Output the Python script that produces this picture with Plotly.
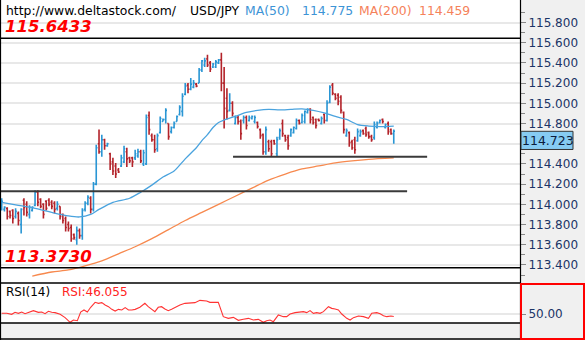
import plotly.graph_objects as go

# ---------------- data ----------------
symbol = "USD/JPY"
site = "http://www.deltastock.com/"
level_high = 115.6433
level_low = 113.3730
level_mid = 114.13
level_support = 114.47

bar_open = [113.97, 113.95, 113.96, 113.93, 113.94, 113.88, 113.91, 113.80, 114.04, 114.00,
            113.90, 113.94, 113.99, 114.12, 114.05, 114.00, 114.03, 114.04, 114.02, 114.01,
            113.96, 113.98, 113.90, 113.86, 113.80, 113.77, 113.70, 113.65, 113.74, 113.69,
            113.95, 114.01, 114.06, 113.95, 114.20, 114.60, 114.52, 114.64, 114.58, 114.50,
            114.42, 114.38, 114.34, 114.38, 114.42, 114.52, 114.46, 114.46, 114.46, 114.48,
            114.52, 114.40, 114.40, 114.88, 114.68, 114.64, 114.55, 114.71, 114.82, 114.84,
            114.80, 114.72, 114.76, 114.82, 114.89, 114.92, 115.09, 115.18, 115.14, 115.16,
            115.19, 115.20, 115.33, 115.38, 115.44, 115.40, 115.36, 115.36, 115.40, 115.43,
            115.20, 115.05, 114.93, 115.00, 114.80, 114.86, 114.82, 114.83, 114.86, 114.83,
            114.85, 114.82, 114.81, 114.74, 114.69, 114.52, 114.62, 114.62, 114.63, 114.50,
            114.66, 114.80, 114.68, 114.66, 114.68, 114.71, 114.75, 114.83, 114.81, 114.82,
            114.91, 114.94, 114.86, 114.84, 114.84, 114.80, 114.89, 114.83, 115.01, 115.18,
            115.09, 115.08, 115.06, 114.91, 114.68, 114.71, 114.62, 114.64, 114.63, 114.68,
            114.73, 114.75, 114.71, 114.67, 114.66, 114.76, 114.81, 114.84, 114.76, 114.80,
            114.74, 114.70]
bar_high = [114.06, 113.98, 113.97, 113.94, 113.95, 113.96, 113.93, 113.96, 114.06, 114.03,
            113.99, 113.98, 114.14, 114.14, 114.06, 114.01, 114.04, 114.06, 114.04, 114.03,
            114.03, 113.98, 113.91, 113.88, 113.83, 113.80, 113.71, 113.78, 113.76, 113.96,
            114.03, 114.09, 114.08, 114.22, 114.59, 114.74, 114.69, 114.65, 114.61, 114.51,
            114.46, 114.41, 114.36, 114.49, 114.58, 114.56, 114.47, 114.47, 114.54, 114.55,
            114.54, 114.54, 114.89, 114.92, 114.70, 114.69, 114.70, 114.87, 114.85, 114.95,
            114.80, 114.77, 114.82, 114.88, 114.98, 115.10, 115.20, 115.20, 115.25, 115.23,
            115.20, 115.35, 115.43, 115.45, 115.48, 115.42, 115.40, 115.43, 115.44, 115.50,
            115.36, 115.15, 115.10, 115.02, 114.88, 114.88, 114.84, 114.88, 114.88, 114.88,
            114.88, 114.88, 114.82, 114.75, 114.70, 114.77, 114.64, 114.64, 114.64, 114.67,
            114.75, 114.84, 114.69, 114.69, 114.75, 114.77, 114.85, 114.84, 114.90, 114.93,
            114.95, 114.95, 114.87, 114.85, 114.85, 114.87, 114.90, 115.03, 115.18, 115.20,
            115.10, 115.10, 115.08, 114.92, 114.75, 114.72, 114.64, 114.67, 114.75, 114.74,
            114.74, 114.77, 114.72, 114.69, 114.82, 114.82, 114.84, 114.85, 114.80, 114.82,
            114.75, 114.74]
bar_low = [113.94, 113.93, 113.85, 113.86, 113.81, 113.86, 113.79, 113.71, 113.89, 113.88,
           113.86, 113.93, 113.98, 113.98, 113.96, 113.86, 113.94, 113.98, 113.95, 113.91,
           113.94, 113.85, 113.81, 113.73, 113.73, 113.63, 113.65, 113.60, 113.66, 113.65,
           113.93, 113.99, 113.91, 113.93, 114.19, 114.50, 114.47, 114.54, 114.57, 114.34,
           114.29, 114.26, 114.31, 114.37, 114.41, 114.37, 114.41, 114.37, 114.44, 114.46,
           114.41, 114.38, 114.39, 114.69, 114.62, 114.51, 114.52, 114.70, 114.82, 114.80,
           114.64, 114.70, 114.75, 114.82, 114.88, 114.87, 115.08, 115.10, 115.13, 115.15,
           115.16, 115.20, 115.31, 115.36, 115.36, 115.31, 115.35, 115.35, 115.39, 115.12,
           114.75, 114.84, 114.92, 114.87, 114.79, 114.79, 114.64, 114.80, 114.74, 114.82,
           114.84, 114.80, 114.75, 114.65, 114.49, 114.49, 114.52, 114.47, 114.59, 114.47,
           114.64, 114.67, 114.62, 114.54, 114.67, 114.70, 114.74, 114.79, 114.80, 114.80,
           114.90, 114.80, 114.79, 114.75, 114.82, 114.79, 114.80, 114.82, 115.00, 115.08,
           115.03, 114.98, 114.90, 114.70, 114.67, 114.57, 114.54, 114.50, 114.62, 114.67,
           114.69, 114.67, 114.65, 114.62, 114.64, 114.75, 114.80, 114.80, 114.75, 114.69,
           114.69, 114.60]
bar_close = [114.03, 113.97, 113.88, 113.89, 113.86, 113.93, 113.84, 113.95, 113.97, 113.92,
             113.97, 113.97, 114.12, 114.02, 113.98, 113.90, 113.96, 114.00, 113.98, 113.95,
             114.00, 113.88, 113.84, 113.77, 113.76, 113.66, 113.67, 113.74, 113.69, 113.94,
             114.01, 114.07, 113.95, 114.20, 114.56, 114.52, 114.64, 114.58, 114.60, 114.40,
             114.33, 114.30, 114.32, 114.46, 114.55, 114.45, 114.43, 114.42, 114.50, 114.52,
             114.43, 114.51, 114.86, 114.74, 114.64, 114.54, 114.68, 114.85, 114.84, 114.93,
             114.67, 114.76, 114.80, 114.87, 114.96, 115.07, 115.17, 115.14, 115.19, 115.20,
             115.17, 115.33, 115.42, 115.42, 115.38, 115.34, 115.39, 115.41, 115.43, 115.20,
             114.95, 114.92, 115.00, 114.90, 114.86, 114.82, 114.70, 114.86, 114.78, 114.86,
             114.87, 114.86, 114.77, 114.68, 114.52, 114.74, 114.55, 114.50, 114.60, 114.64,
             114.73, 114.70, 114.64, 114.58, 114.74, 114.76, 114.83, 114.80, 114.88, 114.92,
             114.94, 114.84, 114.81, 114.78, 114.83, 114.85, 114.83, 115.00, 115.16, 115.10,
             115.05, 115.02, 114.93, 114.74, 114.73, 114.61, 114.56, 114.54, 114.72, 114.72,
             114.70, 114.69, 114.67, 114.64, 114.79, 114.80, 114.83, 114.82, 114.79, 114.72,
             114.70, 114.723]
bar_index = list(range(len(bar_close)))

ma50_bar = [0, 6, 12, 18, 24, 28, 32, 35, 40, 46, 50, 54, 58, 62, 66, 70, 72, 74, 76, 78,
            80, 84, 88, 92, 96, 100, 104, 108, 112, 116, 120, 124, 128, 132, 136, 141]
ma50_val = [114.02, 113.99, 113.96, 113.92, 113.885, 113.875, 113.90, 113.95, 114.02, 114.06,
            114.12, 114.19, 114.27, 114.33, 114.45, 114.56, 114.63, 114.69, 114.76, 114.81,
            114.835, 114.87, 114.91, 114.93, 114.94, 114.935, 114.94, 114.945, 114.93, 114.905,
            114.87, 114.84, 114.79, 114.775, 114.77, 114.775]

ma200_bar = [11, 18, 24, 30, 36, 42, 48, 54, 60, 66, 72, 78, 84, 90, 96, 102, 108, 114,
             120, 126, 132, 141]
ma200_val = [113.29, 113.33, 113.35, 113.39, 113.44, 113.51, 113.58, 113.66, 113.75, 113.84,
             113.92, 114.00, 114.08, 114.16, 114.24, 114.30, 114.35, 114.38, 114.41, 114.43,
             114.445, 114.459]

rsi_bar = [0, 1.8, 3.6, 4.8, 6, 7.2, 8.4, 9.6, 11.4, 13.2, 14.4, 15.6, 16.8, 18, 19.2, 21,
           22.8, 24.6, 25.8, 27.2, 28.4, 29.6, 30.8, 32, 33.6, 34.8, 36, 37.2, 38.4, 39.6,
           40.8, 42, 43.2, 44.4, 45.6, 46.8, 48, 49.7, 51.5, 52.7, 54, 55.1, 56.3, 57.5,
           58.7, 59.9, 61.1, 62.3, 64.1, 65.9, 67.7, 69.5, 71.3, 72.5, 73.7, 74.9, 76.1,
           77.9, 79.7, 81.5, 83.3, 85.1, 86.9, 88.7, 90.5, 92.3, 94.1, 95.3, 96.5, 97.7,
           99.5, 101.3, 102.5, 103.7, 105.5, 107.3, 108.5, 109.7, 110.9, 112.1, 113.3,
           114.5, 115.7, 117.5, 118.7, 119.9, 121.1, 122.3, 124.1, 125.3, 126.5, 128.3,
           130.1, 131.9, 133.1, 134.9, 136.1, 137.3, 138.5, 140, 141]
rsi_val = [51.1, 51.1, 49.5, 52.7, 51.1, 53.2, 50.5, 52.7, 55.4, 52.7, 53.2, 50.5, 54.3, 52.7,
           52.2, 49.5, 44.1, 36.6, 40.3, 39.2, 53.2, 56.5, 53.2, 60.8, 68.8, 67.2, 68.3, 64.5,
           61.8, 57.5, 54.8, 57.5, 56.5, 60.2, 56.5, 56.5, 57.5, 60.8, 67.2, 61.8, 57.5, 53.8,
           60.8, 61.8, 58.1, 55.4, 57.5, 60.8, 64.5, 67.2, 67.2, 68.3, 72.0, 71.5, 71.0, 68.8,
           68.8, 68.8, 45.7, 43.0, 44.6, 39.8, 41.4, 43.0, 40.3, 41.4, 36.6, 39.2, 40.3, 37.6,
           48.4, 45.7, 45.7, 50.0, 52.2, 53.5, 53.8, 52.2, 55.4, 51.1, 52.2, 51.1, 53.8, 61.8,
           59.1, 58.1, 56.5, 50.0, 43.0, 40.3, 44.1, 46.8, 45.7, 43.0, 51.1, 52.2, 50.5, 47.3,
           45.7, 46.8, 46.055]

price_ticks = [113.4, 113.6, 113.8, 114.0, 114.2, 114.4, 114.6, 114.8, 115.0, 115.2, 115.4,
               115.6, 115.8]

# ---------------- styling ----------------
W, H = 585, 340
PLOT_R = 520
BLUE = "#2a96d4"
RED = "#b3232a"
MA50_C = "#4aa3de"
MA200_C = "#f7894e"
GRID = "#e8e8e8"
AXIS_TXT = "#1b3466"
FONT = "DejaVu Sans"


def fx(p):
    return p / W


def fy(p):
    return 1 - p / H


x_range = [-0.61, 186.4]

fig = go.Figure()
fig.add_trace(go.Ohlc(
    x=bar_index, open=bar_open, high=bar_high, low=bar_low, close=bar_close,
    increasing=dict(line=dict(color=BLUE, width=1.6)),
    decreasing=dict(line=dict(color=RED, width=1.6)),
    tickwidth=0.45, xaxis="x", yaxis="y", showlegend=False, hoverinfo="skip"))
fig.add_trace(go.Scatter(
    x=ma50_bar, y=ma50_val, mode="lines", xaxis="x", yaxis="y",
    line=dict(color=MA50_C, width=1.3, shape="spline", smoothing=0.8),
    showlegend=False, hoverinfo="skip"))
fig.add_trace(go.Scatter(
    x=ma200_bar, y=ma200_val, mode="lines", xaxis="x", yaxis="y",
    line=dict(color=MA200_C, width=1.3, shape="spline", smoothing=0.8),
    showlegend=False, hoverinfo="skip"))
fig.add_trace(go.Scatter(
    x=rsi_bar, y=rsi_val, mode="lines", xaxis="x2", yaxis="y2",
    line=dict(color="#ff3333", width=1.1),
    showlegend=False, hoverinfo="skip"))

shapes = []
# horizontal reference levels
shapes.append(dict(type="line", xref="paper", yref="y", x0=0, x1=fx(PLOT_R),
                   y0=level_high, y1=level_high, line=dict(color="black", width=1.5)))
shapes.append(dict(type="line", xref="paper", yref="y", x0=0, x1=fx(PLOT_R),
                   y0=level_low, y1=level_low, line=dict(color="black", width=1.5)))
shapes.append(dict(type="line", xref="x", yref="y", x0=x_range[0], x1=145.8,
                   y0=level_mid, y1=level_mid, line=dict(color="#3a3a3a", width=2)))
shapes.append(dict(type="line", xref="x", yref="y", x0=83.2, x1=153,
                   y0=level_support, y1=level_support, line=dict(color="#3a3a3a", width=2)))
# frame
shapes.append(dict(type="line", xref="paper", yref="paper", x0=fx(0.5), x1=fx(0.5),
                   y0=0, y1=1, line=dict(color="black", width=1.2)))
shapes.append(dict(type="line", xref="paper", yref="paper", x0=fx(PLOT_R + 0.5), x1=fx(PLOT_R + 0.5),
                   y0=0, y1=1, line=dict(color="black", width=1.2)))
for yy in (283, 323, 339):
    shapes.append(dict(type="line", xref="paper", yref="paper", x0=0, x1=fx(PLOT_R),
                       y0=fy(yy), y1=fy(yy), line=dict(color="black", width=1.5)))
shapes.append(dict(type="rect", xref="paper", yref="paper", x0=fx(521), x1=fx(584),
                   y0=fy(339), y1=fy(284), line=dict(color="#ff0000", width=2)))
# last price box
last_close = bar_close[-1]
shapes.append(dict(type="rect", xref="paper", yref="y", x0=fx(521), x1=fx(573),
                   y0=last_close - 0.18, y1=last_close,
                   fillcolor="#86cbf2", line=dict(color="#333333", width=1), layer="above"))

annotations = []


def label(text, x, y, color="black", size=12, xanchor="left"):
    annotations.append(dict(text=text, x=fx(x), y=fy(y), xref="paper", yref="paper",
                            xanchor=xanchor, yanchor="middle", showarrow=False,
                            font=dict(family=FONT, size=size, color=color)))


label(site, 4, 10, size=12.4)
label(symbol, 188, 10, size=12.4)
label("MA(50)", 243, 10, color="#3d94d6", size=12.4)
label(f"{ma50_val[-1]:.3f}", 300, 10, color="#3d94d6", size=12.4)
label("MA(200)", 357, 10, color="#f5825a", size=12.4)
label(f"{ma200_val[-1]:.3f}", 417, 10, color="#f5825a", size=12.4)
label(f"<b><i>{level_high:.4f}</i></b>", 3, 27, color="#ff0000", size=16.5)
label(f"<b><i>{level_low:.4f}</i></b>", 3, 256, color="#ff0000", size=16.5)
label("RSI(14)", 4, 292, size=12)
label(f"RSI:{rsi_val[-1]:.3f}", 60, 292, color="#ff2222", size=12)
annotations.append(dict(text=f"{last_close:.3f}", x=fx(548), y=last_close - 0.09,
                        xref="paper", yref="y", xanchor="center", yanchor="middle",
                        showarrow=False, font=dict(family=FONT, size=12.5, color="#0c1c3c")))

tick_text = ["" if abs(v - 114.6) < 1e-9 else f"{v:.3f}" for v in price_ticks]

fig.update_layout(
    width=W, height=H, margin=dict(l=0, r=0, t=0, b=0),
    paper_bgcolor="#f0f0f0", plot_bgcolor="white",
    font=dict(family=FONT, size=12, color=AXIS_TXT),
    xaxis=dict(domain=[0, fx(PLOT_R)], range=x_range, visible=False,
               rangeslider=dict(visible=False), anchor="y"),
    xaxis2=dict(domain=[0, fx(PLOT_R)], range=x_range, visible=False, anchor="y2"),
    yaxis=dict(domain=[fy(283), 1], range=[113.221, 116.023], side="right", anchor="x",
               tickmode="array", tickvals=price_ticks, ticktext=tick_text,
               ticks="outside", ticklen=5, tickcolor="#888888", tickwidth=1,
               tickfont=dict(family=FONT, size=12, color=AXIS_TXT),
               showgrid=True, gridcolor=GRID, gridwidth=1.5, zeroline=False, showline=False,
               minor=dict(tick0=113.3, dtick=0.2, ticks="outside", ticklen=4,
                          tickcolor="#888888", showgrid=False)),
    yaxis2=dict(domain=[fy(323), fy(283)], range=[35.48, 100], side="right", anchor="x2",
                tickmode="array", tickvals=[50], ticktext=["50.00"],
                ticks="outside", ticklen=5, tickcolor="#888888",
                tickfont=dict(family=FONT, size=12, color=AXIS_TXT),
                showgrid=True, gridcolor=GRID, gridwidth=1.5, zeroline=False, showline=False),
    shapes=shapes, annotations=annotations,
)

fig.write_html("out.html")
